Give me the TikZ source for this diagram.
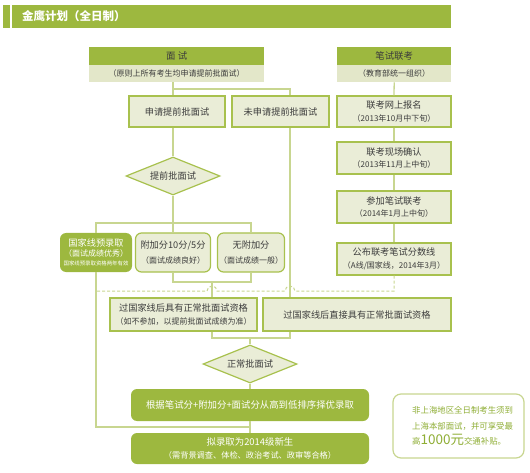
\documentclass[tikz,border=0pt]{standalone}
\usepackage{fontspec}
\setmainfont{Noto Sans CJK SC}
\usetikzlibrary{shapes.geometric,calc}
\definecolor{gre}{HTML}{9DB83F}
\definecolor{lfill}{HTML}{EAEDD7}
\definecolor{subfill}{HTML}{E3E7C9}
\definecolor{bord}{HTML}{A8C14E}
\definecolor{lcol}{HTML}{C8D690}
\definecolor{tcol}{HTML}{3C3C3C}
\definecolor{notec}{HTML}{8FAE35}
\newcommand\subtxt[1]{{\fontsize{8}{12}\selectfont #1}}
\begin{document}
\begin{tikzpicture}[x=1pt,y=-1pt,
  lbox/.style={draw=bord, fill=lfill, line width=1.2pt, inner sep=0pt, align=center, text=tcol, font=\fontsize{9.2}{12.5}\selectfont},
  rbox/.style={lbox, rounded corners=6pt},
  gbox/.style={fill=gre, draw=none, text=white, rounded corners=6pt, align=center, inner sep=0pt, font=\fontsize{9.4}{13}\selectfont},
  dia/.style={draw=bord, fill=lfill, line width=1.2pt, shape=diamond, aspect=2.45, inner sep=0pt, minimum width=94, minimum height=38, text=tcol, font=\fontsize{9.2}{12}\selectfont},
  hdr/.style={fill=gre, inner sep=0pt, text=tcol, font=\fontsize{9.4}{12}\selectfont, anchor=north west},
  hsub/.style={fill=subfill, inner sep=0pt, text=tcol, font=\fontsize{8}{12}\selectfont, anchor=north west},
  conn/.style={draw=lcol, line width=1.3pt},
  dashline/.style={draw=lcol, line width=1pt, dash pattern=on 3pt off 2pt}
]
\useasboundingbox (0,0) rectangle (530,473);
% title
\node[fill=gre, minimum width=7, minimum height=23, inner sep=0pt, anchor=north west] (tbl) at (3,5) {};
\node[fill=gre, minimum width=439, minimum height=23, inner sep=0pt, anchor=north west] (tb) at (12,5) {};
\node[anchor=west, text=white, inner sep=0pt, font=\bfseries\fontsize{11.5}{12}\selectfont] (tt) at (22,16.5) {金鹰计划（全日制）};
% headers
\node[hdr, minimum width=175, minimum height=18] (mh) at (89,47) {面\ 试};
\node[hsub, minimum width=175, minimum height=17] (msub) at (89,65) {（原则上所有考生均申请提前批面试）};
\node[hdr, minimum width=114, minimum height=18] (bh) at (337,47) {笔试联考};
\node[hsub, minimum width=114, minimum height=17] (bsub) at (337,65) {（教育部统一组织）};
% left column
\node[lbox, minimum width=96, minimum height=31] (sq) at (177,111.5) {申请提前批面试};
\node[lbox, minimum width=97, minimum height=31] (wsq) at (280.5,111.5) {未申请提前批面试};
\node[dia] (d1) at (173,176) {提前批面试};
\node[gbox, minimum width=72, minimum height=39, font=\fontsize{9.2}{12}\selectfont] (b1) at (96,252.5) {国家线预录取\\[-1.5pt]{\fontsize{8}{11}\selectfont（面试成绩优秀）}\\[-3pt]{\fontsize{5.4}{7}\selectfont 国家线预录取资格两年有效}};
\node[rbox, minimum width=75, minimum height=39, font=\fontsize{9.2}{15}\selectfont] (b2) at (173,252.5) {附加分10分/5分\\\subtxt{（面试成绩良好）}};
\node[rbox, minimum width=67, minimum height=39, font=\fontsize{9.2}{15}\selectfont] (b3) at (251,252.5) {无附加分\\\subtxt{（面试成绩一般）}};
\node[lbox, minimum width=147, minimum height=33] (p1) at (183.5,314.5) {过国家线后具有正常批面试资格\\\subtxt{（如不参加，以提前批面试成绩为准）}};
\node[lbox, minimum width=188, minimum height=33] (p2) at (357,314.5) {过国家线后直接具有正常批面试资格};
\node[dia] (d2) at (250,364) {正常批面试};
\node[gbox, minimum width=238, minimum height=32] (g1) at (250,405) {根据笔试分+附加分+面试分从高到低排序择优录取};
\node[gbox, minimum width=238, minimum height=31] (g2) at (250,448.5) {拟录取为2014级新生\\{\fontsize{8.2}{12}\selectfont（需背景调查、体检、政治考试、政审等合格）}};
% right column
\node[lbox, minimum width=114, minimum height=31] (s1) at (394,111.5) {联考网上报名\\\subtxt{（2013年10月中下旬）}};
\node[lbox, minimum width=114, minimum height=32] (s2) at (394,158) {联考现场确认\\\subtxt{（2013年11月上中旬）}};
\node[lbox, minimum width=114, minimum height=32] (s3) at (394,207) {参加笔试联考\\\subtxt{（2014年1月上中旬）}};
\node[lbox, minimum width=114, minimum height=32] (s4) at (394,259) {公布联考笔试分数线\\\subtxt{（A线/国家线，2014年3月）}};
% note
\node[draw=lcol, fill=white, line width=1.2pt, rounded corners=8pt, minimum width=131, minimum height=64, inner sep=0pt] (note) at (458.5,426) {};
\node[anchor=west, align=left, inner sep=0pt, text=notec, font=\fontsize{8.4}{15.5}\selectfont] (notetxt) at (412,426) {非上海地区全日制考生须到\\上海本部面试，并可享受最\\高{\fontsize{13.5}{15.5}\selectfont 1000元}交通补贴。};
% guide coordinates
\coordinate (xa) at (96,0);
\coordinate (xb) at (173,0);
\coordinate (xe) at (290,0);
\coordinate (j1) at (173,89);
\coordinate (j2) at (173,223);
\coordinate (j3) at (212,282);
\coordinate (j4) at (250,338);
\coordinate (j5) at (250,427);
\coordinate (jd) at (0,291);
% connectors
\draw[conn] (xb |- msub.south) -- (xb |- sq.north);
\draw[conn] (j1) -| (xe |- wsq.north);
\draw[conn] (xe |- wsq.south) -- (xe |- p2.north);
\draw[conn] (bsub.south) -- (s1.north);
\draw[conn] (s1.south) -- (s2.north);
\draw[conn] (s2.south) -- (s3.north);
\draw[conn] (s3.south) -- (s4.north);
\draw[conn] (xb |- sq.south) -- (d1.north);
\draw[conn] (d1.south) -- (b2.north);
\draw[conn] (b1.north) |- (j2) -| (b3.north);
\draw[conn] (b1.south) |- (j5);
\draw[conn] (b2.south) |- (j3) -| (b3.south);
\draw[conn] (j3) -- (j3 |- p1.north);
\draw[conn] (j3 |- p1.south) |- (j4) -| (xe |- p2.south);
\draw[conn] (j4) -- (d2.north);
\draw[conn] (d2.south) -- (g1.north);
\draw[conn] (g1.south) -- (g2.north);
\draw[dashline] (s4.south) |- ($(xe |- jd)+(5,0)$) arc[start angle=0, end angle=180, x radius=5pt, y radius=5pt]
  -- ($(j3 |- jd)+(5,0)$) arc[start angle=0, end angle=180, x radius=5pt, y radius=5pt]
  -- (xa |- jd);
\end{tikzpicture}
\end{document}
